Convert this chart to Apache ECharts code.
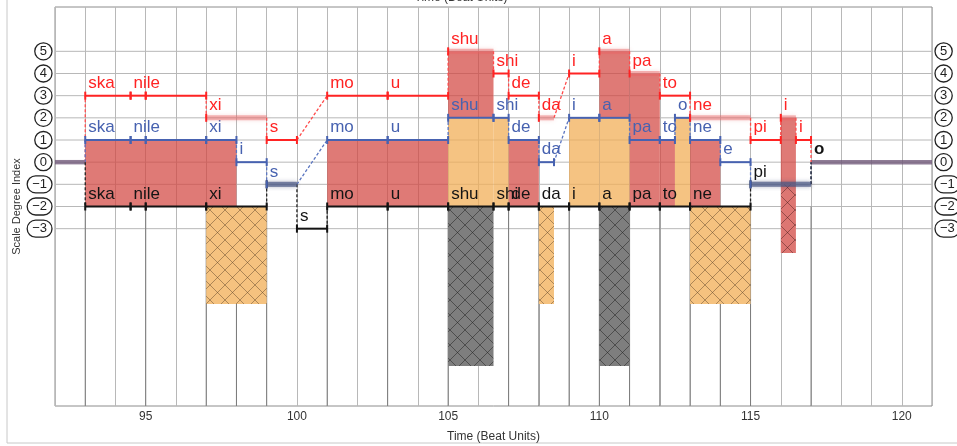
<!DOCTYPE html>
<html><head><meta charset="utf-8">
<script src="https://cdn.jsdelivr.net/npm/echarts@6/dist/echarts.min.js"></script>
<style>html,body{margin:0;padding:0;background:#fff}#c{width:957px;height:446px}</style>
</head><body><div id="c"></div>
<script>
// ---------- data ----------
const xTickLabels = [95, 100, 105, 110, 115, 120];
const yLevels = [5, 4, 3, 2, 1, 0, -1, -2, -3];
const baseline = [[92, 93, 0], [117, 121, 0]];
// [syllable, start, end, scale degree, kind]  kind: n = note, h = held, x = baseline
const redTier = [
  ['', 92, 93, 0, 'x'],
  ['ska', 93, 94.5, 3, 'n'],
  ['nile', 94.5, 95, 3, 'n'],
  ['', 95, 97, 3, 'n'],
  ['xi', 97, 99, 2, 'h'],
  ['s', 99, 100, 1, 'n'],
  ['mo', 101, 103, 3, 'n'],
  ['u', 103, 105, 3, 'n'],
  ['shu', 105, 106.5, 5, 'h'],
  ['shi', 106.5, 107, 4, 'n'],
  ['de', 107, 108, 3, 'n'],
  ['da', 108, 108.5, 2, 'h'],
  ['i', 109, 110, 4, 'n'],
  ['a', 110, 111, 5, 'h'],
  ['pa', 111, 112, 4, 'h'],
  ['to', 112, 113, 3, 'n'],
  ['ne', 113, 115, 2, 'h'],
  ['pi', 115, 116, 1, 'n'],
  ['i', 116, 116.5, 2, 'h'],
  ['i', 116.5, 117, 1, 'n'],
  ['', 117, 121, 0, 'x']
];
const blueTier = [
  ['', 92, 93, 0, 'x'],
  ['ska', 93, 94.5, 1, 'n'],
  ['nile', 94.5, 95, 1, 'n'],
  ['', 95, 97, 1, 'n'],
  ['xi', 97, 98, 1, 'n'],
  ['i', 98, 99, 0, 'n'],
  ['s', 99, 100, -1, 'h'],
  ['mo', 101, 103, 1, 'n'],
  ['u', 103, 105, 1, 'n'],
  ['shu', 105, 106.5, 2, 'n'],
  ['shi', 106.5, 107, 2, 'n'],
  ['de', 107, 108, 1, 'n'],
  ['da', 108, 108.5, 0, 'n'],
  ['i', 109, 110, 2, 'n'],
  ['a', 110, 111, 2, 'n'],
  ['pa', 111, 112, 1, 'n'],
  ['to', 112, 112.5, 1, 'n'],
  ['o', 112.5, 113, 2, 'n'],
  ['ne', 113, 114, 1, 'n'],
  ['e', 114, 115, 0, 'n'],
  ['', 115, 117, -1, 'h'],
  ['', 117, 121, 0, 'x']
];
const blackTier = [
  ['', 92, 93, 0, 'x'],
  ['ska', 93, 94.5, -2, 'n'],
  ['nile', 94.5, 95, -2, 'n'],
  ['', 95, 97, -2, 'n'],
  ['xi', 97, 99, -2, 'n'],
  ['', 99, 100, -1, 'h'],
  ['s', 100, 101, -3, 'n'],
  ['mo', 101, 103, -2, 'n'],
  ['u', 103, 105, -2, 'n'],
  ['shu', 105, 106.5, -2, 'n'],
  ['shi', 106.5, 107, -2, 'n'],
  ['de', 107, 108, -2, 'n'],
  ['da', 108, 109, -2, 'n'],
  ['i', 109, 110, -2, 'n'],
  ['a', 110, 111, -2, 'n'],
  ['pa', 111, 112, -2, 'n'],
  ['to', 112, 113, -2, 'n'],
  ['ne', 113, 115, -2, 'n'],
  ['pi', 115, 117, -1, 'h'],
  ['o', 117, 121, 0, 'x']
];
// [start, end, low, high]
const redBars = [[93, 98, -2, 1], [101, 105, -2, 1], [105, 106.5, 2, 5], [107, 108, -2, 1], [110, 111, 2, 5],
  [111, 112, -2, 4], [112, 112.5, -2, 1], [113, 114, -2, 1], [116, 116.5, -1, 2]];
const orangeBars = [[105, 106.5, -2, 2], [106.5, 107, -2, 2], [109, 110, -2, 2], [110, 111, -2, 2], [112.5, 113, -2, 2]];
const orangeHatch = [[97, 99, -6.4, -2], [108, 108.5, -6.4, -2], [113, 115, -6.4, -2]];
const grayHatch = [[105, 106.5, -9.2, -2], [110, 111, -9.2, -2]];
const redHatch = [[116, 116.5, -4.1, -1]];

// ---------- helpers ----------
const FONT = '"Liberation Sans", Arial, sans-serif';
function hatch(bg, line) {
  const c = document.createElement('canvas'); c.width = 15; c.height = 15;
  const g = c.getContext('2d'); g.fillStyle = bg; g.fillRect(0, 0, 15, 15);
  g.strokeStyle = line; g.lineWidth = 0.8;
  g.beginPath(); g.moveTo(-1, -1); g.lineTo(16, 16); g.moveTo(16, -1); g.lineTo(-1, 16); g.stroke();
  return { image: c, repeat: 'repeat' };
}
function rectSeries(data, fill, z) {
  return { type: 'custom', z, silent: true, clip: true, data,
    renderItem(p, api) {
      const a = api.coord([api.value(0), api.value(3)]), b = api.coord([api.value(1), api.value(2)]);
      return { type: 'rect', shape: { x: a[0], y: a[1], width: b[0] - a[0], height: b[1] - a[1] }, style: { fill } };
    } };
}
function tierSeries(tier, color, heldColor, z, bold) {
  return { type: 'custom', z, silent: true, data: tier.map(s => [s[1], s[2], s[3]]),
    renderItem(p, api) {
      const s = tier[p.dataIndex];
      const a = api.coord([s[1], s[3]]), b = api.coord([s[2], s[3]]);
      const ch = [];
      if (s[4] === 'n') {
        ch.push({ type: 'line', shape: { x1: a[0], y1: a[1], x2: b[0], y2: b[1] }, style: { stroke: color, lineWidth: 2 } });
        ch.push({ type: 'line', shape: { x1: a[0], y1: a[1] - 4, x2: a[0], y2: a[1] + 4 }, style: { stroke: color, lineWidth: 2 } });
        ch.push({ type: 'line', shape: { x1: b[0], y1: b[1] - 4, x2: b[0], y2: b[1] + 4 }, style: { stroke: color, lineWidth: 2 } });
      } else if (s[4] === 'h') {
        ch.push({ type: 'rect', shape: { x: a[0], y: a[1] - 2.5, width: b[0] - a[0], height: 5 },
          style: { fill: heldColor, shadowBlur: 4, shadowColor: heldColor } });
        ch.push({ type: 'line', shape: { x1: a[0], y1: a[1] - 4, x2: a[0], y2: a[1] + 4 }, style: { stroke: color, lineWidth: 2 } });
      }
      if (s[0]) ch.push({ type: 'text', x: a[0] + 3, y: a[1] - 4,
        style: { text: s[0], fill: color, font: (bold && s[4] === 'x' ? 'bold ' : '') + '17px ' + FONT, align: 'left', verticalAlign: 'bottom' } });
      return { type: 'group', children: ch };
    } };
}
function connectors(tier) {
  const out = [];
  for (let i = 1; i < tier.length; i++) {
    const p = tier[i - 1], q = tier[i];
    if (q[1] > p[2]) out.push([p[2], p[3], q[1], q[3]]);
    else if (q[3] !== p[3]) out.push([q[1], p[3], q[1], q[3]]);
  }
  return out;
}
function lineSeries(data, color, width, dash, z) {
  return { type: 'custom', z, silent: true, data,
    renderItem(p, api) {
      const a = api.coord([api.value(0), api.value(1)]), b = api.coord([api.value(2), api.value(3)]);
      return { type: 'line', shape: { x1: a[0], y1: a[1], x2: b[0], y2: b[1] },
        style: { stroke: color, lineWidth: width, lineDash: dash } };
    } };
}
const hGrid = yLevels.map(v => [92, v, 121, v]);
const onsetLines = blueTier.filter(s => s[4] !== 'x' && Number.isInteger(s[1])).map(s => [s[1], -11, s[1], -2])
  .concat([[117, -11, 117, -2]]);

const circled = v => yLevels.includes(v) ? '{c|' + String(v).replace('-', '\u2212') + '}' : '';
const rich = { c: { borderColor: '#222', borderWidth: 1.3, borderRadius: 9, padding: [2, 5, 2, 5], lineHeight: 14,
  fontSize: 13, color: '#222', fontFamily: FONT, align: 'center' } };

const chart = echarts.init(document.getElementById('c'), null, { renderer: 'canvas' });
chart.setOption({
  animation: false,
  grid: { left: 55, right: 25, top: 7, bottom: 40, outerBoundsMode: 'none', containLabel: false,
    show: true, borderColor: '#8c8c8c', borderWidth: 1, backgroundColor: '#fff' },
  xAxis: { type: 'value', min: 92, max: 121, interval: 1,
    axisLine: { show: false }, axisTick: { show: false },
    axisLabel: { formatter: v => xTickLabels.includes(v) ? String(v) : '', color: '#333', fontSize: 12, fontFamily: FONT, margin: 5 },
    splitLine: { show: true, lineStyle: { color: '#b8b8b8', width: 1 } },
    name: 'Time (Beat Units)', nameLocation: 'middle', nameGap: 25, nameMoveOverlap: false,
    nameTextStyle: { color: '#333', fontSize: 12, fontFamily: FONT } },
  yAxis: [
    { type: 'value', min: -11, max: 7, interval: 1, axisLine: { show: false }, axisTick: { show: false },
      splitLine: { show: false },
      axisLabel: { formatter: circled, rich, margin: 3 },
      name: 'Scale Degree Index', nameLocation: 'middle', nameGap: 33, nameMoveOverlap: false,
      nameTextStyle: { color: '#333', fontSize: 11, fontFamily: FONT } },
    { type: 'value', min: -11, max: 7, interval: 1, position: 'right', axisLine: { show: false }, axisTick: { show: false },
      splitLine: { show: false }, axisLabel: { formatter: circled, rich, margin: 3 } }
  ],
  graphic: [
    { type: 'rect', shape: { x: 7, y: -2, width: 960, height: 445 }, style: { fill: 'none', stroke: '#c8c8c8', lineWidth: 1 }, z: -1 },
    { type: 'text', x: 461, y: 4, style: { text: 'Time (Beat Units)', align: 'center', verticalAlign: 'bottom', font: '12px ' + FONT, fill: '#333' } }
  ],
  series: [
    lineSeries(hGrid, '#b8b8b8', 1, null, 1),
    lineSeries(onsetLines, '#7a7a7a', 1, null, 1),
    rectSeries(redBars, 'rgba(210,70,65,0.72)', 2),
    rectSeries(orangeBars, 'rgba(242,175,88,0.75)', 2),
    rectSeries(orangeHatch, hatch('#f5c27f', 'rgba(90,65,40,0.6)'), 2),
    rectSeries(grayHatch, hatch('#7e7e7e', 'rgba(30,30,30,0.65)'), 2),
    rectSeries(redHatch, hatch('#dd7672', 'rgba(60,20,20,0.55)'), 2),
    rectSeries(baseline.map(b => [b[0], b[1], b[2] - 0.1, b[2] + 0.1]), 'rgba(105,80,115,0.75)', 3),
    lineSeries(connectors(redTier), '#ff4a4a', 1.3, [3, 2], 3),
    lineSeries(connectors(blueTier), '#5a75c0', 1.3, [3, 2], 3),
    lineSeries(connectors(blackTier), '#222', 1.3, [3, 2], 3),
    tierSeries(blackTier, '#141414', 'rgba(60,60,70,0.45)', 4, true),
    tierSeries(blueTier, '#4762b0', 'rgba(80,100,160,0.45)', 5, false),
    tierSeries(redTier, '#ff2323', 'rgba(232,100,100,0.45)', 6, false)
  ]
});
</script></body></html>
